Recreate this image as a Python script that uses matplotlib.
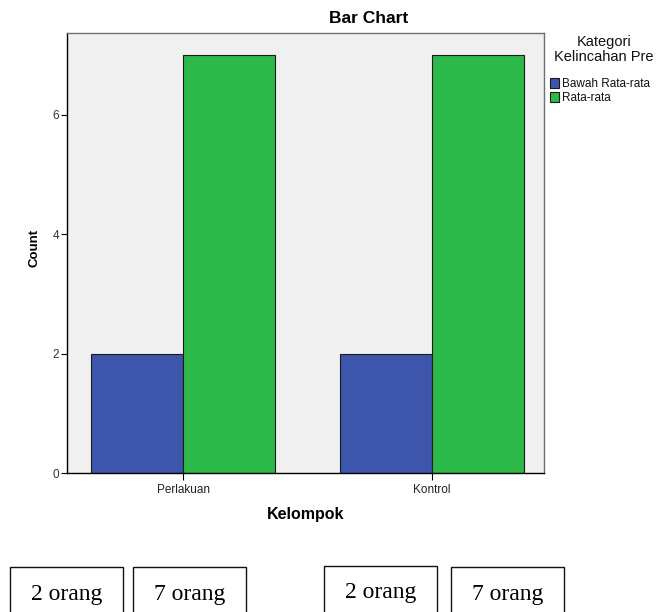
import numpy as np
import matplotlib
matplotlib.use("Agg")
import matplotlib.pyplot as plt
from matplotlib.patches import Rectangle

plt.rcParams['font.family'] = ['Liberation Sans', 'DejaVu Sans']

# Data
kelompok = ["Perlakuan", "Kontrol"]
kategori = ["Bawah Rata-rata", "Rata-rata"]
count_bawah = [2, 2]
count_rata = [7, 7]
y_ticks = [0, 2, 4, 6]
legend_title = "Kategori\nKelincahan Pre"
box_labels = ["2 orang", "7 orang", "2 orang", "7 orang"]

colors = ["#3D56AB", "#2DB84A"]

###########################################################
# Figure
fig = plt.figure(figsize=(6.59, 6.12), dpi=100)
W, H = 659.0, 612.0
ax = fig.add_axes([67 / W, 1 - 473 / H, 477 / W, 440 / H])
ax.set_facecolor("#F0F0F0")

x = np.arange(len(kelompok))
w = 0.37
b1 = ax.bar(x - w / 2, count_bawah, w, color=colors[0], edgecolor="#1a1a1a",
            linewidth=0.8, label=kategori[0])
b2 = ax.bar(x + w / 2, count_rata, w, color=colors[1], edgecolor="#1a1a1a",
            linewidth=0.8, label=kategori[1])

ax.set_xlim(-0.466, 1.45)
ax.set_ylim(0, 7.37)
ax.set_xticks(x)
ax.set_xticklabels(kelompok, fontsize=8.5, color="#222222")
ax.set_yticks(y_ticks)
ax.set_yticklabels([str(t) for t in y_ticks], fontsize=8.5, color="#333333")
ax.tick_params(axis="x", direction="out", length=5, width=0.8, pad=3)
ax.tick_params(axis="y", direction="out", length=4, width=0.8, pad=1.5)
for s in ["top", "right"]:
    ax.spines[s].set_color("#707070")
for s in ["left", "bottom"]:
    ax.spines[s].set_color("#000000")
for s in ax.spines.values():
    s.set_linewidth(1.0)

ax.set_xlabel("Kelompok", fontsize=11.5, fontweight="bold", labelpad=8)
ax.set_ylabel("Count", fontsize=9.5, fontweight="bold")
ax.yaxis.set_label_coords(-0.056, 0.511)

fig.text(368.5 / W, 1 - 18.5 / H, "Bar Chart", fontsize=12.5, fontweight="bold",
         ha="center", va="center")

# Legend
fig.text(604 / W, 1 - 49.5 / H, legend_title, fontsize=10.5, ha="center",
         va="center", multialignment="center", linespacing=1.1,
         color="#111111")
leg = ax.legend(handles=[b1, b2], loc="upper left",
                bbox_to_anchor=(550 / W, 1 - 78 / H),
                bbox_transform=fig.transFigure, frameon=False, fontsize=8.5,
                handlelength=0.75, handleheight=0.9,
                handletextpad=0.25, labelspacing=0.2, borderpad=0,
                borderaxespad=0)
for t in leg.get_texts():
    t.set_color("#111111")

# Bottom boxes
box_x = [10, 133, 324, 451]
box_top = [567, 567, 566, 567]
text_y = [600, 600, 598, 600]
for bx, bt, ty, lab in zip(box_x, box_top, text_y, box_labels):
    fig.patches.append(Rectangle((bx / W, 1 - 625 / H), 113 / W, (625 - bt) / H,
                                 transform=fig.transFigure, fill=False,
                                 edgecolor="#111111", linewidth=1.0))
    fig.text((bx + 56.5) / W, 1 - ty / H, lab, fontsize=17,
             family="Liberation Serif", ha="center", va="baseline")

fig.savefig("out.png", dpi=100)
